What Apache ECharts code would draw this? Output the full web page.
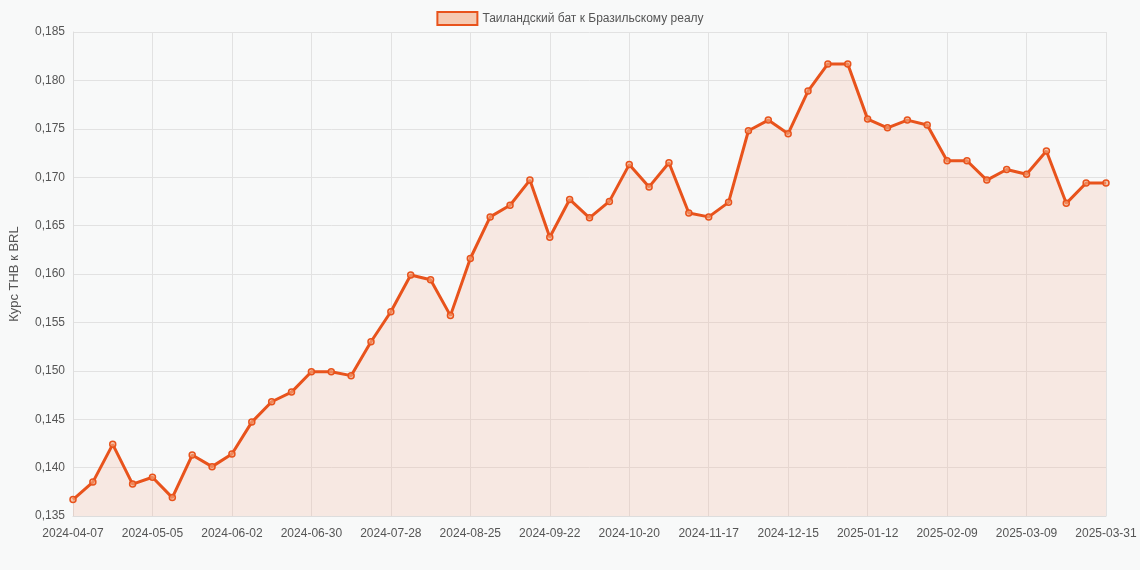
<!DOCTYPE html>
<html>
<head>
<meta charset="utf-8">
<script src="https://cdn.jsdelivr.net/npm/echarts@6/dist/echarts.min.js"></script>
<style>body{margin:0;background:#f8f9f9;}#c{width:1140px;height:570px;}</style>
</head>
<body>
<div id="c"></div>
<script>
// weekly dates, last point is 2025-03-31
var dates = [];
(function () {
  var d = new Date(Date.UTC(2024, 3, 7));
  for (var i = 0; i < 52; i++) {
    dates.push(d.toISOString().slice(0, 10));
    d = new Date(d.getTime() + 7 * 86400000);
  }
  dates.push('2025-03-31');
})();
var rates = [0.1367, 0.1385, 0.1424, 0.1383, 0.1390, 0.1369, 0.1413, 0.1401, 0.1414, 0.1447,
  0.1468, 0.1478, 0.1499, 0.1499, 0.1495, 0.1530, 0.1561, 0.1599, 0.1594, 0.1557,
  0.1616, 0.1659, 0.1671, 0.1697, 0.1638, 0.1677, 0.1658, 0.1675, 0.1713, 0.1690,
  0.1715, 0.1663, 0.1659, 0.1674, 0.1748, 0.1759, 0.1745, 0.1789, 0.1817, 0.1817,
  0.1760, 0.1751, 0.1759, 0.1754, 0.1717, 0.1717, 0.1697, 0.1708, 0.1703, 0.1727,
  0.1673, 0.1694, 0.1694];
var seriesName = 'Таиландский бат к Бразильскому реалу';

var chart = echarts.init(document.getElementById('c'));
chart.setOption({
  backgroundColor: '#f8f9f9',
  textStyle: { fontFamily: 'Arial, Liberation Sans, sans-serif' },
  legend: {
    top: 6, left: 'center', icon: 'rect', itemWidth: 40, itemHeight: 13,
    textStyle: { color: '#555', fontSize: 12 },
    data: [seriesName]
  },
  grid: { left: 68, right: 34, top: 32, bottom: 54 },
  xAxis: {
    type: 'category', data: dates, boundaryGap: false,
    axisLine: { lineStyle: { color: '#ddd' } },
    axisTick: { show: false },
    axisLabel: { interval: 3, color: '#555', fontSize: 12, margin: 12 },
    splitLine: { show: true, interval: 3, lineStyle: { color: '#e2e2e2' } }
  },
  yAxis: {
    type: 'value', min: 0.135, max: 0.185, interval: 0.005,
    name: 'Курс THB к BRL', nameLocation: 'middle', nameGap: 52,
    nameTextStyle: { color: '#555', fontSize: 13 },
    axisLine: { show: true, lineStyle: { color: '#ddd' } },
    axisLabel: { color: '#555', fontSize: 12, formatter: function (v) { return v.toFixed(3).replace('.', ','); } },
    splitLine: { lineStyle: { color: '#e2e2e2' } }
  },
  series: [{
    name: seriesName, type: 'line', data: rates,
    symbol: 'circle', symbolSize: 6,
    itemStyle: { color: 'rgba(244,170,130,0.6)', borderColor: '#e8531c', borderWidth: 1.5 },
    lineStyle: { color: '#e8531c', width: 3 },
    areaStyle: { color: 'rgba(244,170,140,0.3)' }
  }]
});
</script>
</body>
</html>
